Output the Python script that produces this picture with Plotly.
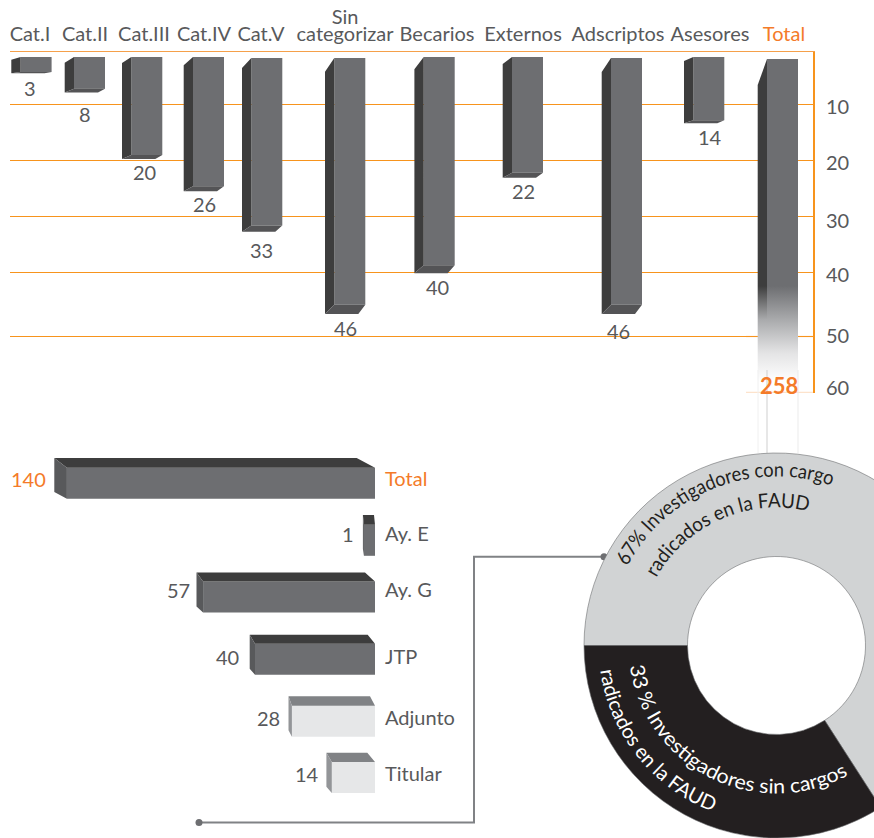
import json, math
import plotly.graph_objects as go

# ---------- data ----------
top_categories = ["Cat.I", "Cat.II", "Cat.III", "Cat.IV", "Cat.V", "Sin<br>categorizar",
                  "Becarios", "Externos", "Adscriptos", "Asesores", "Total"]
top_labels = [3, 8, 20, 26, 33, 46, 40, 22, 46, 14, 258]
# where each bar's front face ends when read against the picture's own axis
top_readings = [4.2, 7.2, 19.0, 24.6, 31.6, 45.75, 38.7, 22.2, 45.75, 12.8, 61.0]
top_starts = [1.52, 1.52, 1.52, 1.52, 1.7, 1.7, 1.52, 1.52, 1.7, 1.52, 1.88]
axis_ticks = [10, 20, 30, 40, 50, 60]

low_categories = ["Total", "Ay. E", "Ay. G", "JTP", "Adjunto", "Titular"]
low_labels = [140, 1, 57, 40, 28, 14]
# drawn bar lengths (Total is truncated, Ay. E widened there)
low_readings = [102.7, 3.7, 57.3, 40.0, 27.7, 14.4]

donut_shares = [65.9, 34.1]

# ---------- layout constants (pixels of the 874x838 page) ----------
W, H = 980, 838
ORANGE, LABEL = "#f7941d", "#58595b"
TXT_ORANGE = "#f47b29"
FRONT, SIDE, UNDER = "#6d6e71", "#3d3d3d", "#545456"
FONT = "Lato"
Y0, PXU = 48.5, 5.6            # top chart: pixel of value 0, pixels per unit
PLOT_L, PLOT_R, PLOT_T, PLOT_B = 10, 813, 52, 393

u = lambda p: (p - Y0) / PXU
front_left = [20.6, 74, 131.3, 193, 251.3, 334.3, 423.7, 512, 611, 693.3, 767]
FRONT_W = 31
label_x = [30, 85, 144, 204, 261, 345, 437, 523, 618, 710, 784]
top_drop = [2.7, 5.7, 6, 8.3, 10, 13.7, 12.3, 7, 14, 4, 26]
bottom_drop = [1.3, 3.7, 4, 5, 6.3, 9.3, 8, 5, 9.3, 3, 0]
label_gap = [16, 22, 14, 14, 19, 15, 15, 14, 18, 15, 0]
grid_px = [52, 104.5, 160.5, 216.5, 272.5, 336.5, 392.5]
tick_px = [107, 163, 221, 275, 336, 388]

fig = go.Figure()

# ---------- top chart ----------
n = len(top_labels) - 1
centers = [front_left[i] + FRONT_W / 2 for i in range(n)]
fig.add_trace(go.Bar(x=centers, y=[top_readings[i] - top_starts[i] for i in range(n)],
                     base=top_starts[:n], width=FRONT_W, marker=dict(color=FRONT, line_width=0),
                     xaxis="x", yaxis="y", hoverinfo="skip"))
sx, sy, bx, by = [], [], [], []
for i in range(n):
    l, r = front_left[i], front_left[i] + FRONT_W
    t, b = top_starts[i], top_readings[i]
    ob = b + bottom_drop[i] / PXU
    sx += [l, l - 9.3, l - 9.3, l, l, None]
    sy += [t, t + top_drop[i] / PXU, ob, b, t, None]
    bx += [l, r, r - 7, l - 9.3, l, None]
    by += [b, b, ob, ob, b, None]
fig.add_trace(go.Scatter(x=sx, y=sy, mode="lines", fill="toself", fillcolor=SIDE, line_width=0,
                         xaxis="x", yaxis="y", hoverinfo="skip"))
fig.add_trace(go.Scatter(x=bx, y=by, mode="lines", fill="toself", fillcolor=UNDER, line_width=0,
                         xaxis="x", yaxis="y", hoverinfo="skip"))

# Total bar fades out, so it is a gradient-filled polygon
tl, tr = front_left[-1], front_left[-1] + FRONT_W
tt, tb = top_starts[-1], top_readings[-1]
fade_start, fade_end = u(286), u(382)


def fade(rgb):
    span = tb - tt
    a = (fade_start - tt) / span
    c = (fade_end - tt) / span
    return [[0, rgb], [a, rgb], [a + (c - a) * 0.35, "#a9aaac"], [a + (c - a) * 0.7, "#e4e4e5"],
            [c, "#ffffff"], [1, "#ffffff"]]


for poly_x, poly_y, rgb in [
    ([tl, tr, tr, tl, tl], [tt, tt, tb, tb, tt], FRONT),
    ([tl, tl - 9.3, tl - 9.3, tl, tl], [tt, tt + top_drop[-1] / PXU, tb, tb, tt], SIDE),
]:
    fig.add_trace(go.Scatter(x=poly_x, y=poly_y, mode="lines", fill="toself", line_width=0,
                             fillgradient=dict(type="vertical", colorscale=fade(rgb), start=tt, stop=tb),
                             xaxis="x", yaxis="y", hoverinfo="skip"))

# invisible trace that keeps the tick-label axis alive
fig.add_trace(go.Scatter(x=[PLOT_L], y=[10], mode="markers", marker_opacity=0,
                         xaxis="x", yaxis="y2", hoverinfo="skip"))

# ---------- lower chart ----------
low_center = [483.3, 540.3, 597, 659.3, 721.2, 777.5]
low_tick = [479, 534, 590, 657, 718, 774]
low_top = [9.7, 9.7, 9, 9, 9.4, 9.3]
low_side = [12.6, 1.0, 6.6, 5.3, 3.4, 5.4]
low_right = [18.3, 1, 10, 7.3, 5, 7.7]
low_gap = [8, 9, 7, 11, 9, 7]
LOW_H = 31
lu = 3.0   # pixels per unit on the lower axis
dark = [True, True, True, True, False, False]
col = {True: (FRONT, SIDE, "#58595b"), False: ("#e6e7e8", "#808285", "#939598")}
for flag in (True, False):
    idx = [i for i in range(6) if dark[i] == flag]
    fig.add_trace(go.Bar(x=[low_readings[i] for i in idx], y=[low_center[i] for i in idx],
                         orientation="h", width=LOW_H, marker=dict(color=col[flag][0], line_width=0),
                         xaxis="x2", yaxis="y3", hoverinfo="skip"))
    tx, ty, ex, ey = [], [], [], []
    for i in idx:
        L = low_readings[i]
        T, B = low_center[i] - LOW_H / 2, low_center[i] + LOW_H / 2
        s = low_side[i] / lu
        tx += [0, L, L + s, low_right[i] / lu, 0, None]
        ty += [T, T, T - low_top[i], T - low_top[i], T, None]
        ex += [L, L + s, L + s, L, L, None]
        ey += [T, T - low_top[i], B - low_top[i] + 3, B, T, None]
    fig.add_trace(go.Scatter(x=tx, y=ty, mode="lines", fill="toself", fillcolor=col[flag][1], line_width=0,
                             xaxis="x2", yaxis="y3", hoverinfo="skip"))
    fig.add_trace(go.Scatter(x=ex, y=ey, mode="lines", fill="toself", fillcolor=col[flag][2], line_width=0,
                             xaxis="x2", yaxis="y3", hoverinfo="skip"))

# ---------- overlay lines (leader, fade-out traces) ----------
for xs, ys, c, w in [([767, 767], [370, 453], "#cfcfcf", 1),
                     ([758, 758], [370, 453], "#f0f0f0", 1),
                     ([798, 798], [370, 453], "#ebebeb", 1)]:
    fig.add_trace(go.Scatter(x=xs, y=ys, mode="lines", line=dict(color=c, width=w),
                             xaxis="x3", yaxis="y4", hoverinfo="skip"))
fig.add_trace(go.Scatter(x=[199, 474, 474, 604], y=[822.5, 822.5, 556.7, 556.7], mode="lines",
                         line=dict(color="#808285", width=2), xaxis="x3", yaxis="y4", hoverinfo="skip"))
fig.add_trace(go.Scatter(x=[199, 604], y=[822.5, 556.7], mode="markers",
                         marker=dict(color="#6d6e71", size=7), xaxis="x3", yaxis="y4", hoverinfo="skip"))

# ---------- donut ----------
CX, CY, R_OUT, R_IN = 776.5, 645.5, 192.5, 89
fig.add_trace(go.Pie(values=donut_shares, sort=False, direction="clockwise", rotation=270, hole=R_IN / R_OUT,
                     marker=dict(colors=["#d1d3d4", "#231f20"], line=dict(color="#6d6e71", width=0.6)),
                     textinfo="none", hoverinfo="skip",
                     domain=dict(x=[(CX - R_OUT) / W, (CX + R_OUT) / W],
                                 y=[1 - (CY + R_OUT) / H, 1 - (CY - R_OUT) / H])))

# ---------- annotations ----------
ann = []
for i in range(n):
    ann.append(dict(x=label_x[i], y=top_readings[i] + bottom_drop[i] / PXU, xref="x", yref="y",
                    yshift=-label_gap[i] + 1, text=str(top_labels[i]), showarrow=False, yanchor="middle",
                    font=dict(color=LABEL, size=20, family=FONT)))
ann.append(dict(x=779, y=u(386), xref="x", yref="y", text=str(top_labels[-1]), showarrow=False,
                font=dict(color=TXT_ORANGE, size=22, family=FONT, weight="bold")))
for i in range(6):
    ann.append(dict(x=low_readings[i] + low_side[i] / lu, y=low_tick[i], xref="x2", yref="y3",
                    xanchor="right", xshift=-low_gap[i] + 2, text=str(low_labels[i]), showarrow=False,
                    font=dict(color=TXT_ORANGE if i == 0 else LABEL, size=20, family=FONT)))

curved = [
    dict(text="67% Investigadores con cargo", r=169, a0=-62, a1=19, color="#231f20"),
    dict(text="radicados en la FAUD", r=138, a0=-60.6, a1=13.3, color="#231f20"),
    dict(text="33 % Investigadores sin cargos", r=148, a0=262, a1=151, color="#ffffff"),
    dict(text="radicados en la FAUD ", r=178, a0=262, a1=201, color="#ffffff"),
]
for c in curved:
    c["len"] = abs(c["a1"] - c["a0"]) * math.pi / 180 * c["r"]
    ann.append(dict(x=CX / W, y=1 - (CY - c["r"]) / H, xref="paper", yref="paper", text=c["text"],
                    showarrow=False, font=dict(color=c["color"], size=20, family=FONT)))

# ---------- faded stretch of the two lowest gridlines next to the Total bar ----------
shapes = [dict(type="line", xref="x", yref="y", layer="below", x0=746, x1=PLOT_R, y0=u(p), y1=u(p),
               line=dict(color="#fde3cc", width=1.4)) for p in grid_px[-2:]]

# ---------- axes ----------
y_range = [u(PLOT_B), u(PLOT_T)]
y_dom = [1 - PLOT_B / H, 1 - PLOT_T / H]
orange_ticks = ["<span style='color:%s'>%s</span>" % (TXT_ORANGE, t) if t == "Total" else t for t in top_categories]
fig.update_layout(
    width=W, height=H, margin=dict(l=0, r=0, t=0, b=0, autoexpand=False), autosize=False, showlegend=False,
    paper_bgcolor="white", plot_bgcolor="rgba(0,0,0,0)", barmode="overlay",
    font=dict(family=FONT, color=LABEL, size=20), annotations=ann, shapes=shapes,
    xaxis=dict(domain=[PLOT_L / W, PLOT_R / W], range=[PLOT_L, PLOT_R], side="top", anchor="y", showgrid=False,
               zeroline=False, showline=True, linecolor="#f5a04a", linewidth=1, ticks="",
               tickmode="array", tickvals=label_x, ticktext=orange_ticks, tickangle=0,
               tickfont=dict(size=20, color=LABEL, family=FONT), ticklabelstandoff=2),
    yaxis=dict(domain=y_dom, range=y_range, side="right", anchor="x", showline=True, linecolor=ORANGE, linewidth=1.5,
               tickmode="array", tickvals=[u(p) for p in grid_px], showticklabels=False, ticks="",
               showgrid=True, gridcolor=ORANGE, gridwidth=1, zeroline=False),
    yaxis2=dict(domain=y_dom, range=y_range, side="right", anchor="x", overlaying="y", showgrid=False, zeroline=False,
                showline=False, ticks="", tickmode="array", tickvals=[u(p) for p in tick_px],
                ticktext=[str(t) for t in axis_ticks], tickfont=dict(size=20, color=LABEL, family=FONT),
                ticklabelstandoff=12),
    xaxis2=dict(domain=[0, 375 / W], range=[375 / lu, 0], anchor="y3", showgrid=False, zeroline=False,
                showticklabels=False, ticks="", showline=False),
    yaxis3=dict(domain=[1 - 810 / H, 1 - 440 / H], range=[810, 440], side="right", anchor="x2", showgrid=False,
                zeroline=False, showline=False, ticks="", tickmode="array", tickvals=low_tick,
                ticktext=["<span style='color:%s'>Total</span>" % TXT_ORANGE] + low_categories[1:],
                tickfont=dict(size=20, color=LABEL, family=FONT), ticklabelstandoff=9),
    xaxis3=dict(domain=[0, 1], range=[0, W], anchor="y4", visible=False),
    yaxis4=dict(domain=[0, 1], range=[H, 0], anchor="x3", visible=False),
)

post = """
document.documentElement.style.overflow='hidden';
document.body.style.margin='0';
document.body.style.overflow='hidden';
(function(){
  var spec=%s, CX=%f, CY=%f, NS='http://www.w3.org/2000/svg';
  function pt(r,a){var t=a*Math.PI/180;return [CX+r*Math.sin(t),CY-r*Math.cos(t)];}
  var tries=0;
  function tighten(gd){
    gd.querySelectorAll('.xtick text').forEach(function(n){
      if(n.textContent.indexOf('Sin')!==0||n.getAttribute('data-tight'))return;
      var ls=n.querySelectorAll('tspan.line');
      if(ls.length<2)return;
      var y=parseFloat(n.getAttribute('y'));
      n.setAttribute('y',y+9);
      ls.forEach(function(l){if(l.hasAttribute('y'))l.setAttribute('y',parseFloat(l.getAttribute('y'))+9);});
      ls[1].setAttribute('dy','17px');
      n.setAttribute('data-tight','1');
    });
  }
  function run(){
    var gd=document.getElementById('{plot_id}');
    var nodes=gd.querySelectorAll('text.annotation-text');
    var done=0;
    tighten(gd);
    spec.forEach(function(s,i){
      nodes.forEach(function(n){
        if(n.textContent!==s.text||n.getAttribute('data-curved'))return;
        var svg=n.closest('svg'),p=document.createElementNS(NS,'path');
        var d=s.a1>s.a0?12:-12;
        var a=pt(s.r,s.a0-d),b=pt(s.r,s.a1+d),sw=s.a1>s.a0?1:0;
        p.setAttribute('id','arc'+i);p.setAttribute('fill','none');
        p.setAttribute('d','M'+a[0]+' '+a[1]+' A'+s.r+' '+s.r+' 0 0 '+sw+' '+b[0]+' '+b[1]);
        svg.appendChild(p);
        var t=document.createElementNS(NS,'text'),tp=document.createElementNS(NS,'textPath');
        t.setAttribute('style',n.getAttribute('style'));
        t.setAttribute('text-anchor','middle');
        t.style.fill=s.color;t.style.pointerEvents='none';
        tp.setAttribute('href','#arc'+i);tp.setAttribute('startOffset','50%%');
        tp.setAttribute('textLength',s.len);tp.setAttribute('lengthAdjust','spacingAndGlyphs');
        tp.textContent=s.text.trim();t.appendChild(tp);svg.appendChild(t);
        n.setAttribute('data-curved','1');n.style.display='none';done++;
      });
    });
    if(!done&&tries++<200)requestAnimationFrame(run);
  }
  run();
})();
""" % (json.dumps(curved), CX, CY)

fig.write_html("out.html", post_script=post, config=dict(displayModeBar=False))
